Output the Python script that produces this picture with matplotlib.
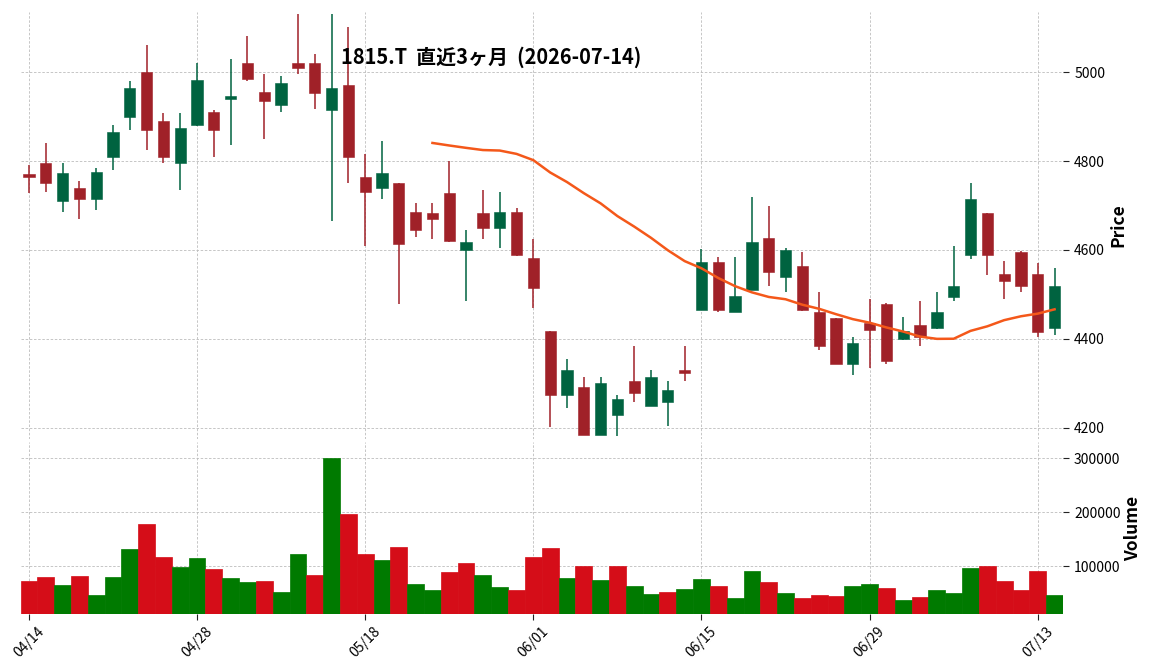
import numpy as np
import pandas as pd
import matplotlib
matplotlib.use("Agg")
import matplotlib.pyplot as plt

plt.rcParams['font.family'] = ['Noto Sans CJK JP', 'DejaVu Sans']

title = "1815.T  直近3ヶ月  (2026-07-14)"

dates = [
    "04/14", "04/15", "04/16", "04/17", "04/20", "04/21", "04/22", "04/23", "04/24", "04/27",
    "04/28", "04/30", "05/01", "05/07", "05/08", "05/11", "05/12", "05/13", "05/14", "05/15",
    "05/18", "05/19", "05/20", "05/21", "05/22", "05/25", "05/26", "05/27", "05/28", "05/29",
    "06/01", "06/02", "06/03", "06/04", "06/05", "06/08", "06/09", "06/10", "06/11", "06/12",
    "06/15", "06/16", "06/17", "06/18", "06/19", "06/22", "06/23", "06/24", "06/25", "06/26",
    "06/29", "06/30", "07/01", "07/02", "07/03", "07/06", "07/07", "07/08", "07/09", "07/10",
    "07/13", "07/14",
]

opens = [
    4771, 4796, 4709, 4740, 4714, 4808, 4900, 5001, 4891, 4795,
    4880, 4911, 4939, 5021, 4956, 4925, 5021, 5021, 4914, 4972,
    4765, 4739, 4751, 4686, 4682, 4727, 4599, 4682, 4649, 4686,
    4581, 4417, 4273, 4291, 4184, 4229, 4306, 4249, 4258, 4331,
    4464, 4572, 4460, 4509, 4626, 4539, 4565, 4461, 4446, 4343,
    4435, 4479, 4399, 4431, 4424, 4494, 4588, 4682, 4545, 4596,
    4545, 4424,
]
highs = [
    4790, 4840, 4796, 4755, 4784, 4881, 4980, 5061, 4909, 4909,
    5020, 4915, 5029, 5081, 4996, 4991, 5130, 5041, 5130, 5101,
    4815, 4844, 4751, 4706, 4706, 4800, 4645, 4735, 4730, 4694,
    4625, 4417, 4355, 4315, 4315, 4273, 4384, 4330, 4306, 4384,
    4603, 4584, 4584, 4718, 4699, 4605, 4596, 4505, 4446, 4405,
    4490, 4481, 4449, 4485, 4506, 4609, 4751, 4682, 4575, 4597,
    4571, 4560,
]
lows = [
    4727, 4730, 4685, 4670, 4690, 4780, 4870, 4825, 4796, 4735,
    4878, 4810, 4837, 4980, 4850, 4910, 4996, 4918, 4665, 4751,
    4608, 4715, 4479, 4629, 4625, 4618, 4486, 4625, 4605, 4586,
    4470, 4202, 4245, 4184, 4184, 4181, 4259, 4249, 4205, 4306,
    4464, 4460, 4460, 4509, 4518, 4505, 4462, 4375, 4343, 4319,
    4335, 4343, 4398, 4384, 4423, 4485, 4580, 4544, 4490, 4505,
    4405, 4409,
]
closes = [
    4763, 4750, 4772, 4714, 4776, 4866, 4965, 4869, 4808, 4875,
    4981, 4869, 4947, 4984, 4934, 4976, 5010, 4954, 4965, 4808,
    4730, 4772, 4614, 4644, 4669, 4620, 4617, 4649, 4686, 4588,
    4514, 4273, 4331, 4184, 4300, 4266, 4278, 4315, 4286, 4324,
    4572, 4464, 4496, 4617, 4550, 4601, 4464, 4384, 4343, 4390,
    4420, 4350, 4417, 4404, 4461, 4520, 4715, 4588, 4530, 4518,
    4415, 4520,
]
volumes = [
    72800, 80200, 65400, 82100, 46900, 80200, 132100, 178400, 117300, 98800,
    115400, 95100, 78400, 71000, 72800, 52500, 122800, 84000, 300000, 196900,
    122800, 111700, 135800, 67300, 56200, 89500, 106200, 84000, 61700, 56200,
    117300, 134000, 78400, 100600, 74700, 100600, 63600, 48800, 52500, 58000,
    76500, 63600, 41400, 91400, 71000, 50600, 41400, 46900, 45100, 63600,
    67300, 59900, 37700, 43200, 56200, 50600, 96900, 100600, 72800, 56200,
    91400, 46900,
]
tick_dates = ["04/14", "04/28", "05/18", "06/01", "06/15", "06/29", "07/13"]
price_ticks = [4200, 4400, 4600, 4800, 5000]
volume_ticks = [100000, 200000, 300000]
ma_window = 25

UP, DOWN = '#006340', '#A02128'
VUP, VDOWN = '#007a00', '#d50d18'
MA_COLOR = '#f4581a'
GRID = '#bdbdbd'

o = np.array(opens, float)
h = np.array(highs, float)
l = np.array(lows, float)
c = np.array(closes, float)
v = np.array(volumes, float)
x = np.arange(len(c))
up = c >= o

fig = plt.figure(figsize=(11.52, 6.70), dpi=100)
W, H = 1152, 670
L, R = 20.5, 1063
axp = fig.add_axes([L / W, 1 - 439 / H, (R - L) / W, (439 - 12) / H])
axv = fig.add_axes([L / W, 1 - 614 / H, (R - L) / W, (614 - 442) / H], sharex=axp)

for ax in (axp, axv):
    ax.set_facecolor('white')
    for s in ax.spines.values():
        s.set_visible(False)
    ax.grid(True, color=GRID, linestyle='--', linewidth=0.6, dashes=(3, 2))
    ax.set_axisbelow(True)
    ax.yaxis.tick_right()
    ax.tick_params(axis='y', length=4, width=0.8, colors='#222222', labelsize=10, pad=4,
                   labelcolor='black')
    ax.tick_params(axis='x', length=4, width=0.8, colors='#222222', labelsize=10,
                   labelcolor='black')

# candles
cols = np.where(up, UP, DOWN)
axp.vlines(x, l, h, colors=cols, linewidth=1.1, zorder=2)
body_lo = np.minimum(o, c)
body_h = np.maximum(np.abs(c - o), 2.0)
axp.bar(x, body_h, bottom=body_lo, width=0.67, color=cols, edgecolor=cols,
        linewidth=0.4, zorder=3)

# moving average
ma = pd.Series(c).rolling(ma_window).mean()
axp.plot(x, ma.values, color=MA_COLOR, linewidth=1.8, zorder=4)

axp.set_ylim(4175, 5135)
axp.set_yticks(price_ticks)
axp.set_yticklabels([str(t) for t in price_ticks])
axp.tick_params(axis='x', which='both', length=0, labelbottom=False)

# volume (colored by change vs previous close)
vcol = [VDOWN] + [VUP if c[i] > c[i - 1] else VDOWN for i in range(1, len(c))]
axv.bar(x, v, width=1.0, color=vcol, edgecolor=vcol, linewidth=0.5, zorder=2)
axv.set_ylim(0.3 * v.min(), 1.1 * v.max())
axv.set_yticks(volume_ticks)
axv.set_yticklabels([str(t) for t in volume_ticks])

axp.set_xlim(-0.5, len(c) - 0.5)
tick_pos = [dates.index(d) for d in tick_dates]
axv.set_xticks(tick_pos)
axv.set_xticklabels(tick_dates, rotation=45, ha='center')

axp.set_ylabel("Price", fontsize=12.5, fontweight='bold')
axp.yaxis.set_label_position('right')
axp.yaxis.set_label_coords(1.0445, 0.5)
axv.set_ylabel("Volume", fontsize=12.5, fontweight='bold')
axv.yaxis.set_label_position('right')
axv.yaxis.set_label_coords(1.0585, 0.5)

fig.text(491 / W, 1 - 57 / H, title, ha='center', va='center',
         fontsize=14.4, fontweight='bold')

fig.savefig("out.png", dpi=100)
